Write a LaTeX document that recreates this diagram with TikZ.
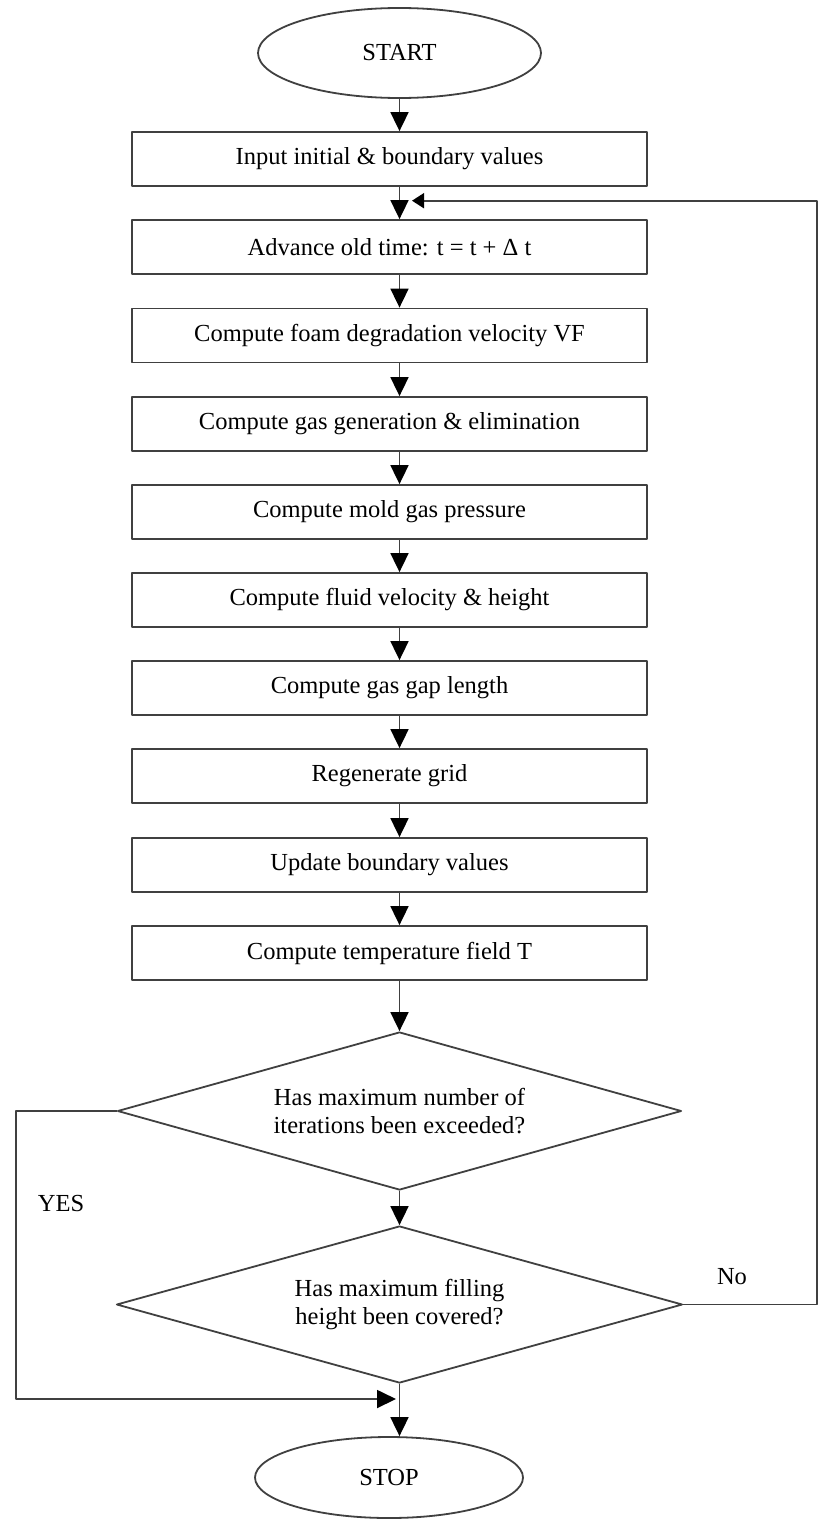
\documentclass[tikz,border=0pt]{standalone}
\usepackage{fontspec}
\setmainfont{Liberation Serif}
\usetikzlibrary{shapes.geometric, arrows.meta, calc}

\begin{document}
\begin{tikzpicture}[x=1pt, y=-1pt, >={Triangle[length=19pt, width=18pt, color=black]}, line join=round,
    every node/.style={font=\fontsize{24.5}{28.5}\selectfont, text=black},
    line/.style={line width=1.8pt, draw=black!75},
    box/.style={line, rectangle, minimum width=515pt, minimum height=54pt, inner sep=0pt},
    term/.style={line, ellipse, inner sep=0pt},
    dec/.style={line, diamond, aspect=3.57, align=center, inner sep=0pt}]
    \useasboundingbox (0,0) rectangle (818,1520);

    % 起止
    \node[term, minimum width=283pt, minimum height=90pt] (start) at (399.5,53) {START};
    \node[term, minimum width=268pt, minimum height=81pt] (stop) at (389,1477.5) {STOP};

    % 计算步骤
    \node[box] (input) at (389.5,159) {Input initial \& boundary values};
    \node[box] (advance) at (389.5,247) {Advance old time: t = t + Δ t};
    \node[box] (foam) at (389.5,335.5) {Compute foam degradation velocity VF};
    \node[box] (gas) at (389.5,424) {Compute gas generation \& elimination};
    \node[box] (mold) at (389.5,512) {Compute mold gas pressure};
    \node[box] (fluid) at (389.5,600) {Compute fluid velocity \& height};
    \node[box] (gap) at (389.5,688) {Compute gas gap length};
    \node[box] (grid) at (389.5,776) {Regenerate grid};
    \node[box] (update) at (389.5,865) {Update boundary values};
    \node[box] (temp) at (389.5,953) {Compute temperature field T};

    % 判断
    \node[dec, minimum width=564pt, minimum height=158pt] (iter) at (399.5,1111)
        {Has maximum number of\\iterations been exceeded?};
    \node[dec, minimum width=566pt, minimum height=157pt] (fill) at (399.5,1304.5)
        {Has maximum filling\\height been covered?};

    % 主线箭头
    \draw[line, ->] (start.south) -- (input.north -| start.south);
    \draw[line, ->] (input.south -| start) -- (advance.north -| start);
    \draw[line, ->] (advance.south -| start) -- (foam.north -| start);
    \draw[line, ->] (foam.south -| start) -- (gas.north -| start);
    \draw[line, ->] (gas.south -| start) -- (mold.north -| start);
    \draw[line, ->] (mold.south -| start) -- (fluid.north -| start);
    \draw[line, ->] (fluid.south -| start) -- (gap.north -| start);
    \draw[line, ->] (gap.south -| start) -- (grid.north -| start);
    \draw[line, ->] (grid.south -| start) -- (update.north -| start);
    \draw[line, ->] (update.south -| start) -- (temp.north -| start);
    \draw[line, ->] (temp.south -| start) -- (iter.north);
    \draw[line, ->] (iter.south) -- (fill.north);
    \draw[line, ->] (fill.south) -- (stop.north -| fill.south);

    % 回路 No
    \coordinate (loopR) at (817,200.7);
    \coordinate (loopin) at (412,200.7);
    \draw[line, -{Triangle[length=12pt, width=15pt, color=black]}] (fill.east) -| (loopR) -- (loopin);
    \node (no) at (732,1277) {No};

    % YES
    \coordinate (yesB) at (16,1399);
    \coordinate (yesin) at (396,1399);
    \draw[line, ->] (iter.west) -| (yesB) -- (yesin);
    \node (yes) at (61,1203) {YES};
\end{tikzpicture}
\end{document}
